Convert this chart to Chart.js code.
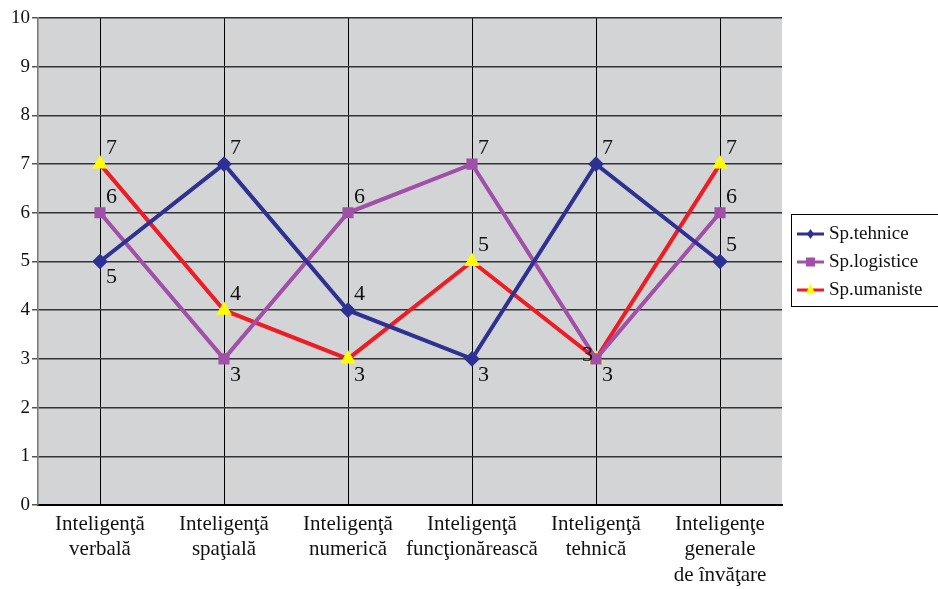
<!DOCTYPE html>
<html>
<head>
<meta charset="utf-8">
<script src="https://cdn.jsdelivr.net/npm/chart.js@4/dist/chart.umd.min.js"></script>
<style>
  html, body { margin: 0; padding: 0; background: #fff; }
  #wrap { width: 938px; height: 589px; position: relative; }
</style>
</head>
<body>
<div id="wrap"><canvas id="c" width="938" height="589"></canvas></div>
<script>
// data
var categories = [
    ['Inteligenţă', 'verbală'],
    ['Inteligenţă', 'spaţială'],
    ['Inteligenţă', 'numerică'],
    ['Inteligenţă', 'funcţionărească'],
    ['Inteligenţă', 'tehnică'],
    ['Inteligenţe', 'generale', 'de învăţare']
];
var seriesNames = ['Sp.tehnice', 'Sp.logistice', 'Sp.umaniste'];
var tehnice = [5, 7, 4, 3, 7, 5];
var logistice = [6, 3, 6, 7, 3, 6];
var umaniste = [7, 4, 3, 5, 3, 7];
var yTicks = [0, 1, 2, 3, 4, 5, 6, 7, 8, 9, 10];

// where each value label sits relative to its point (b = below right, t = above right, l = left)
var labelPlace = [
    ['b', 't', 't', 'b', 't', 't'],
    ['t', 'b', 't', 't', 'l', 't'],
    ['t', 't', 'b', 't', 'b', 't']
];

var serif = '"Liberation Serif", "DejaVu Serif", serif';

//value labels next to the points
var valueLabels = {
    id: 'valueLabels',
    afterDatasetsDraw: function(chart) {
        var ctx = chart.ctx;
        ctx.save();
        ctx.font = '22px ' + serif;
        ctx.fillStyle = '#111';
        ctx.textBaseline = 'middle';
        chart.data.datasets.forEach(function(ds, i) {
            var meta = chart.getDatasetMeta(i);
            meta.data.forEach(function(pt, j) {
                var p = labelPlace[i][j];
                var x = pt.x + 6, y = pt.y - 16;
                ctx.textAlign = 'left';
                if (p === 'b') { y = pt.y + 16; }
                if (p === 'l') { x = pt.x - 3; ctx.textAlign = 'right'; y = pt.y - 4; }
                ctx.fillText(String(ds.data[j]), x, y);
            });
        });
        ctx.restore();
    }
};

//legend box on the right
var boxLegend = {
    id: 'boxLegend',
    afterDraw: function(chart) {
        var ctx = chart.ctx;
        var bx = 791, by = 214, bw = 150, bh = 92;
        ctx.save();
        ctx.fillStyle = '#fff';
        ctx.fillRect(bx, by, bw, bh);
        ctx.strokeStyle = '#000';
        ctx.lineWidth = 1;
        ctx.strokeRect(bx + 0.5, by + 0.5, bw, bh);
        ctx.font = '19px ' + serif;
        ctx.textBaseline = 'middle';
        ctx.textAlign = 'left';
        chart.data.datasets.forEach(function(ds, i) {
            var y = by + 20 + i * 28;
            ctx.strokeStyle = ds.borderColor;
            ctx.lineWidth = 3;
            ctx.beginPath();
            ctx.moveTo(797, y);
            ctx.lineTo(824, y);
            ctx.stroke();
            ctx.fillStyle = ds.pointBackgroundColor;
            ctx.beginPath();
            if (i === 0) {
                ctx.moveTo(810.5, y - 5); ctx.lineTo(814, y); ctx.lineTo(810.5, y + 5); ctx.lineTo(807, y);
            } else if (i === 1) {
                ctx.rect(806, y - 4.5, 9, 9);
            } else {
                ctx.moveTo(810.5, y - 6); ctx.lineTo(815, y + 3); ctx.lineTo(806, y + 3);
            }
            ctx.closePath();
            ctx.fill();
            ctx.fillStyle = '#111';
            ctx.fillText(ds.label, 829, y);
        });
        ctx.restore();
    }
};

//gray plot background
var plotBg = {
    id: 'plotBg',
    beforeDraw: function(chart) {
        var a = chart.chartArea;
        chart.ctx.save();
        chart.ctx.fillStyle = '#d3d4d6';
        chart.ctx.fillRect(a.left, a.top, a.right - a.left, a.bottom - a.top);
        chart.ctx.restore();
    }
};

new Chart(document.getElementById('c'), {
    type: 'line',
    data: {
        labels: categories,
        datasets: [
            {
                label: seriesNames[0], data: tehnice,
                borderColor: '#2e3192', backgroundColor: '#2e3192', pointBackgroundColor: '#2e3192',
                pointBorderColor: '#2e3192', pointStyle: 'rectRot', pointRadius: 5, borderWidth: 4
            },
            {
                label: seriesNames[1], data: logistice,
                borderColor: '#a050a8', backgroundColor: '#a050a8', pointBackgroundColor: '#a050a8',
                pointBorderColor: '#a050a8', pointStyle: 'rect', pointRadius: 5, borderWidth: 4
            },
            {
                label: seriesNames[2], data: umaniste,
                borderColor: '#ee1c25', backgroundColor: '#ffff00', pointBackgroundColor: '#ffff00',
                pointBorderColor: '#ffff00', pointStyle: 'triangle', pointRadius: 5, borderWidth: 4
            }
        ]
    },
    options: {
        responsive: false,
        animation: false,
        devicePixelRatio: 1,
        layout: { padding: { top: 18, right: 156, left: 0, bottom: 0 } },
        plugins: { legend: { display: false }, tooltip: { enabled: false } },
        elements: { line: { tension: 0 }, point: { borderWidth: 1 } },
        scales: {
            x: {
                offset: true,
                afterFit: function(s) { s.height = 84; },
                grid: { offset: false, color: '#000', lineWidth: 1, drawTicks: false },
                border: { color: '#000', width: 2 },
                ticks: {
                    font: { family: serif, size: 21 }, color: '#111',
                    maxRotation: 0, autoSkip: false, padding: 7
                }
            },
            y: {
                min: 0, max: 10,
                afterFit: function(s) { s.width = 38; },
                afterBuildTicks: function(s) { s.ticks = yTicks.map(function(v) { return { value: v }; }); },
                grid: { color: '#333', lineWidth: 1.5, tickLength: 6, tickColor: '#555' },
                border: { color: '#777', width: 1.5 },
                ticks: { font: { family: serif, size: 19 }, color: '#111', padding: 2 }
            }
        }
    },
    plugins: [plotBg, valueLabels, boxLegend]
});
</script>
</body>
</html>
